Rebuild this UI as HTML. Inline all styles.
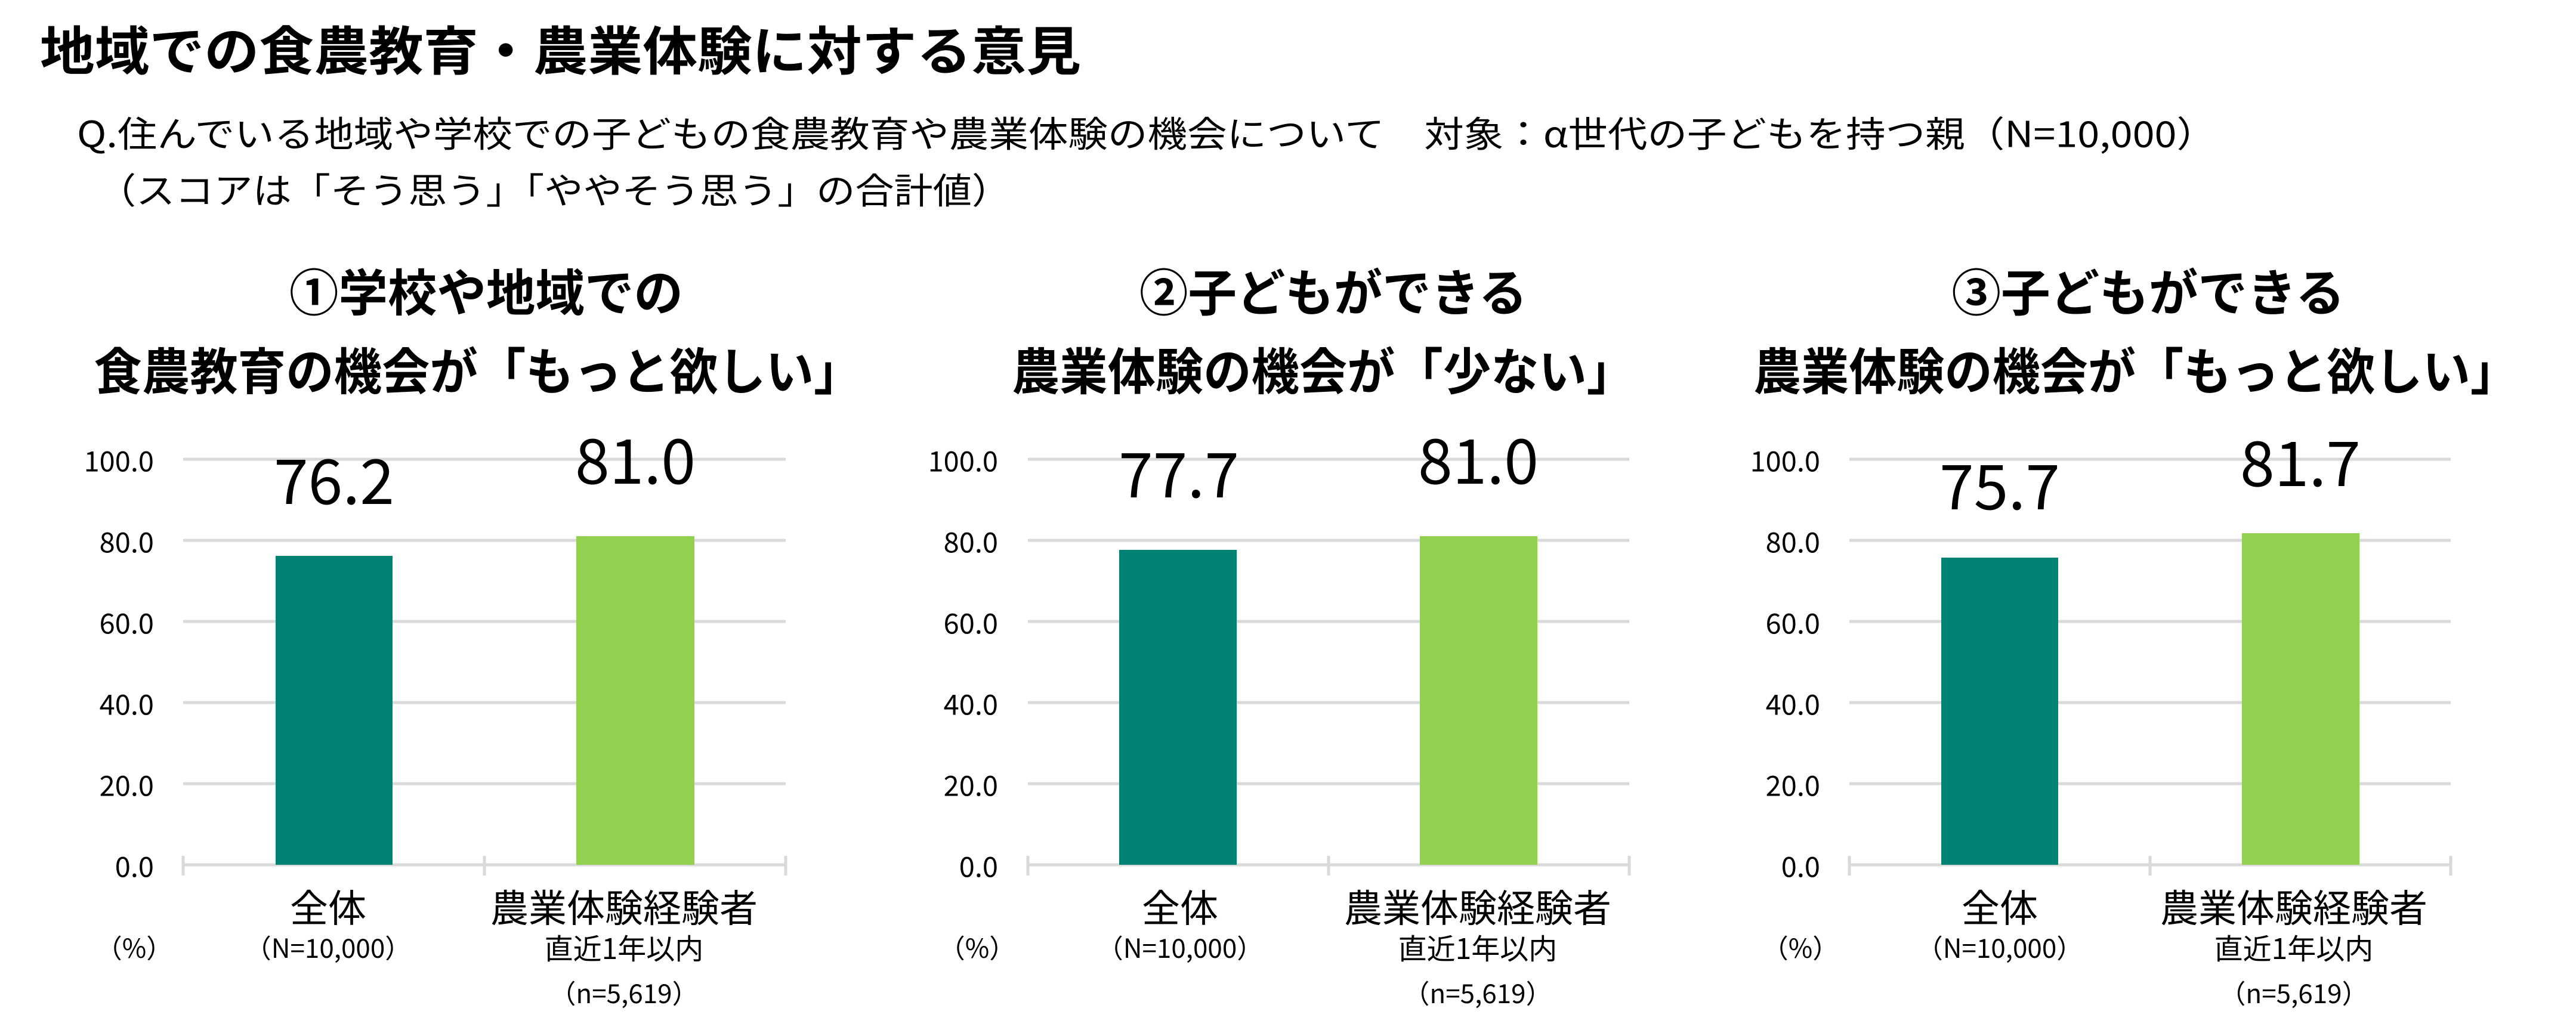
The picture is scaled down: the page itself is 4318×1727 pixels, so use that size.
<!DOCTYPE html>
<html><head><meta charset="utf-8"><style>
html,body{margin:0;padding:0;background:#fff;}
svg{display:block;}
text{font-family:"Liberation Sans","Noto Sans CJK JP",sans-serif;fill:#000;}
.j{font-family:"Noto Sans CJK JP","Liberation Sans",sans-serif;}
</style></head><body>
<svg width="4318" height="1727" viewBox="0 0 4318 1727" xmlns="http://www.w3.org/2000/svg">
<text class="j" x="67" y="80" font-size="88" font-weight="bold" dominant-baseline="central" textLength="1745" lengthAdjust="spacingAndGlyphs">地域での食農教育・農業体験に対する意見</text>
<text class="j" x="129" y="221" font-size="60" dominant-baseline="central" textLength="3586" lengthAdjust="spacingAndGlyphs">Q.住んでいる地域や学校での子どもの食農教育や農業体験の機会について　対象：α世代の子どもを持つ親（N=10,000）</text>
<text class="j" x="163" y="316" font-size="60" dominant-baseline="central" textLength="1531" lengthAdjust="spacingAndGlyphs">（スコアは「そう思う」「ややそう思う」の合計値）</text>

<g class="j" font-size="84" font-weight="bold" text-anchor="middle">
<text class="j" x="815" y="486" dominant-baseline="central" textLength="660" lengthAdjust="spacingAndGlyphs">①学校や地域での</text>
<text class="j" x="801" y="618" dominant-baseline="central" textLength="1287" lengthAdjust="spacingAndGlyphs">食農教育の機会が「もっと欲しい」</text>
<text class="j" x="2235" y="486" dominant-baseline="central" textLength="650" lengthAdjust="spacingAndGlyphs">②子どもができる</text>
<text class="j" x="2218" y="618" dominant-baseline="central" textLength="1044" lengthAdjust="spacingAndGlyphs">農業体験の機会が「少ない」</text>
<text class="j" x="3601" y="486" dominant-baseline="central" textLength="659" lengthAdjust="spacingAndGlyphs">③子どもができる</text>
<text class="j" x="3580" y="618" dominant-baseline="central" textLength="1282" lengthAdjust="spacingAndGlyphs">農業体験の機会が「もっと欲しい」</text>
</g>

<!-- Chart 1 -->
<g>
<g stroke="#d9d9d9" stroke-width="5">
<line x1="307" y1="770" x2="1317" y2="770"/><line x1="307" y1="906" x2="1317" y2="906"/><line x1="307" y1="1042" x2="1317" y2="1042"/><line x1="307" y1="1178" x2="1317" y2="1178"/><line x1="307" y1="1314" x2="1317" y2="1314"/><line x1="307" y1="1450" x2="1317" y2="1450"/>
<line x1="307" y1="1435" x2="307" y2="1468"/><line x1="812" y1="1435" x2="812" y2="1468"/><line x1="1317" y1="1435" x2="1317" y2="1468"/>
</g>
<rect x="462" y="932" width="196" height="518" fill="#008272"/>
<rect x="966" y="899" width="198" height="551" fill="#92D050"/>
<g class="j" font-size="47" text-anchor="end"><text class="j" x="258" y="770" dominant-baseline="central">100.0</text><text class="j" x="258" y="906" dominant-baseline="central">80.0</text><text class="j" x="258" y="1042" dominant-baseline="central">60.0</text><text class="j" x="258" y="1178" dominant-baseline="central">40.0</text><text class="j" x="258" y="1314" dominant-baseline="central">20.0</text><text class="j" x="258" y="1450" dominant-baseline="central">0.0</text></g>
<g class="j" font-size="104" text-anchor="middle"><text class="j" x="560" y="845">76.2</text><text class="j" x="1065" y="811">81.0</text></g>
<g class="j" text-anchor="middle">
<text class="j" x="550" y="1519" font-size="64" dominant-baseline="central">全体</text>
<text class="j" x="1046" y="1519" font-size="64" dominant-baseline="central">農業体験経験者</text>
<text class="j" x="550" y="1587" font-size="44" dominant-baseline="central">（N=10,000）</text>
<text class="j" x="1046" y="1587" font-size="48" dominant-baseline="central">直近1年以内</text>
<text class="j" x="1046" y="1663" font-size="44" dominant-baseline="central">（n=5,619）</text>
<text class="j" x="225" y="1587" font-size="44" dominant-baseline="central">（%）</text>
</g>
</g>

<!-- Chart 2 -->
<g>
<g stroke="#d9d9d9" stroke-width="5">
<line x1="1723" y1="770" x2="2731" y2="770"/><line x1="1723" y1="906" x2="2731" y2="906"/><line x1="1723" y1="1042" x2="2731" y2="1042"/><line x1="1723" y1="1178" x2="2731" y2="1178"/><line x1="1723" y1="1314" x2="2731" y2="1314"/><line x1="1723" y1="1450" x2="2731" y2="1450"/>
<line x1="1723" y1="1435" x2="1723" y2="1468"/><line x1="2227" y1="1435" x2="2227" y2="1468"/><line x1="2731" y1="1435" x2="2731" y2="1468"/>
</g>
<rect x="1876" y="922" width="197" height="528" fill="#008272"/>
<rect x="2380" y="899" width="197" height="551" fill="#92D050"/>
<g class="j" font-size="47" text-anchor="end"><text class="j" x="1673" y="770" dominant-baseline="central">100.0</text><text class="j" x="1673" y="906" dominant-baseline="central">80.0</text><text class="j" x="1673" y="1042" dominant-baseline="central">60.0</text><text class="j" x="1673" y="1178" dominant-baseline="central">40.0</text><text class="j" x="1673" y="1314" dominant-baseline="central">20.0</text><text class="j" x="1673" y="1450" dominant-baseline="central">0.0</text></g>
<g class="j" font-size="104" text-anchor="middle"><text class="j" x="1976" y="834">77.7</text><text class="j" x="2478" y="811">81.0</text></g>
<g class="j" text-anchor="middle">
<text class="j" x="1978" y="1519" font-size="64" dominant-baseline="central">全体</text>
<text class="j" x="2477" y="1519" font-size="64" dominant-baseline="central">農業体験経験者</text>
<text class="j" x="1978" y="1587" font-size="44" dominant-baseline="central">（N=10,000）</text>
<text class="j" x="2477" y="1587" font-size="48" dominant-baseline="central">直近1年以内</text>
<text class="j" x="2477" y="1663" font-size="44" dominant-baseline="central">（n=5,619）</text>
<text class="j" x="1638" y="1587" font-size="44" dominant-baseline="central">（%）</text>
</g>
</g>

<!-- Chart 3 -->
<g>
<g stroke="#d9d9d9" stroke-width="5">
<line x1="3100" y1="770" x2="4108" y2="770"/><line x1="3100" y1="906" x2="4108" y2="906"/><line x1="3100" y1="1042" x2="4108" y2="1042"/><line x1="3100" y1="1178" x2="4108" y2="1178"/><line x1="3100" y1="1314" x2="4108" y2="1314"/><line x1="3100" y1="1450" x2="4108" y2="1450"/>
<line x1="3100" y1="1435" x2="3100" y2="1468"/><line x1="3604" y1="1435" x2="3604" y2="1468"/><line x1="4108" y1="1435" x2="4108" y2="1468"/>
</g>
<rect x="3254" y="935" width="196" height="515" fill="#008272"/>
<rect x="3758" y="894" width="197" height="556" fill="#92D050"/>
<g class="j" font-size="47" text-anchor="end"><text class="j" x="3051" y="770" dominant-baseline="central">100.0</text><text class="j" x="3051" y="906" dominant-baseline="central">80.0</text><text class="j" x="3051" y="1042" dominant-baseline="central">60.0</text><text class="j" x="3051" y="1178" dominant-baseline="central">40.0</text><text class="j" x="3051" y="1314" dominant-baseline="central">20.0</text><text class="j" x="3051" y="1450" dominant-baseline="central">0.0</text></g>
<g class="j" font-size="104" text-anchor="middle"><text class="j" x="3352" y="854">75.7</text><text class="j" x="3856" y="815">81.7</text></g>
<g class="j" text-anchor="middle">
<text class="j" x="3352" y="1519" font-size="64" dominant-baseline="central">全体</text>
<text class="j" x="3845" y="1519" font-size="64" dominant-baseline="central">農業体験経験者</text>
<text class="j" x="3352" y="1587" font-size="44" dominant-baseline="central">（N=10,000）</text>
<text class="j" x="3845" y="1587" font-size="48" dominant-baseline="central">直近1年以内</text>
<text class="j" x="3845" y="1663" font-size="44" dominant-baseline="central">（n=5,619）</text>
<text class="j" x="3018" y="1587" font-size="44" dominant-baseline="central">（%）</text>
</g>
</g>
</svg>
</body></html>
